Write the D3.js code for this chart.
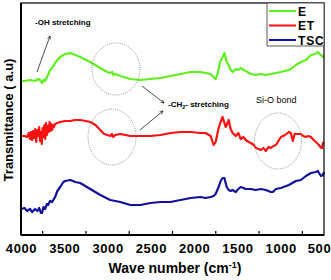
<!DOCTYPE html>
<html>
<head>
<meta charset="utf-8">
<script src="https://cdn.jsdelivr.net/npm/d3@7"></script>
<style>
  body { margin: 0; background: #fff; }
  svg { display: block; font-family: "Liberation Sans", Arial, sans-serif; }
</style>
</head>
<body>
<div id="chart"></div>
<script>
// FTIR spectra, wavenumber (cm-1) vs transmittance (a.u., offset traces)
var seriesNames = ['E', 'ET', 'TSC'];
var seriesColors = ['#5ef01c', '#ff1010', '#10109c'];

var xTicks = [4000, 3500, 3000, 2500, 2000, 1500, 1000, 500];
var xMinorTicks = [3750, 3250, 2750, 2250, 1750, 1250, 750];

var waveE = [4000, 3954, 3896, 3838, 3800, 3780, 3757, 3740, 3722, 3700, 3687, 3664, 3640, 3606, 3580,
  3548, 3490, 3432, 3374, 3316, 3200, 3084, 3003, 2969, 2945, 2934, 2911, 2853, 2737, 2621, 2505, 2389,
  2273, 2157, 2041, 1926, 1868, 1810, 1775, 1752, 1730, 1700, 1671, 1650, 1636, 1624, 1601, 1578, 1555,
  1520, 1490, 1462, 1430, 1404, 1346, 1288, 1230, 1172, 1114, 1056, 998, 906, 883, 825, 767, 709, 674,
  651, 600, 570, 550, 535, 512, 500];
var valE = [154, 154, 155, 154, 156, 155, 152, 155, 154, 158, 160, 165, 167, 172, 175,
  178, 181, 182, 180, 178, 173, 167, 163, 162, 163, 160, 161, 159, 156, 155, 156, 157,
  159, 161, 163, 163, 162, 161, 158, 156, 161, 173, 178, 182, 177, 173, 170, 165, 163,
  166, 165, 167, 165, 164, 161, 160, 161, 160, 161, 162, 163, 165, 166, 170, 173, 175, 178,
  180, 181, 183, 181, 180, 178, 179];

var waveET = [4000, 3960, 3930, 3910, 3896, 3885, 3872, 3860, 3848, 3836, 3825, 3812, 3800, 3790, 3780,
  3770, 3760, 3750, 3740, 3730, 3720, 3710, 3700, 3690, 3680, 3670, 3660, 3650, 3640, 3630, 3620, 3606,
  3580, 3548, 3490, 3432, 3374, 3316, 3250, 3200, 3140,
  3084, 3040, 3003, 2969, 2950, 2934, 2911, 2853, 2737, 2621, 2505, 2389, 2273, 2157, 2041, 1926, 1868,
  1810, 1775, 1752, 1717, 1694, 1671, 1650, 1636, 1624, 1601, 1589, 1578, 1555, 1520, 1490, 1462, 1430,
  1404, 1370, 1346, 1310, 1288, 1253, 1230, 1200, 1172, 1140, 1114, 1085, 1056, 1020, 998, 950, 906,
  883, 860, 840, 825, 767, 740, 709, 680, 651, 620, 593, 558, 535, 523, 512, 500];
var valET = [99, 99, 98, 102, 96, 103, 95, 104, 97, 106, 93, 105, 99, 108, 94,
  103, 91, 107, 98, 110, 96, 112, 100, 109, 103, 113, 104, 111, 105, 110, 108, 111,
  112, 113, 114, 114, 115, 115, 114, 113, 110,
  105, 101, 100, 99, 101, 98, 100, 101, 99, 99, 99, 100, 102, 103, 103, 102, 102,
  99, 90, 93, 107, 113, 118, 112, 108, 110, 115, 110, 106, 102, 99, 102, 96, 98,
  95, 93, 92, 90, 87, 86, 85, 87, 84, 88, 87, 89, 90, 95, 98, 100, 103,
  102, 94, 101, 101, 101, 99, 98, 99, 98, 95, 93, 90, 87, 87, 92, 93];

var waveTSC = [4000, 3960, 3930, 3896, 3870, 3838, 3810, 3790, 3770, 3757, 3740, 3722, 3700, 3687, 3664,
  3640, 3606, 3580, 3548, 3510, 3490, 3432, 3400, 3374, 3316, 3200, 3084, 2969, 2853, 2737, 2621, 2505,
  2389, 2273, 2157, 2041, 1926, 1868, 1810, 1775, 1752, 1717, 1694, 1671, 1650, 1636, 1624, 1601, 1578,
  1555, 1520, 1490, 1462, 1430, 1404, 1346, 1288, 1230, 1172, 1114, 1091, 1056, 998, 906, 825, 767, 709,
  651, 593, 570, 558, 535, 512, 500];
var valTSC = [26, 27, 24, 26, 23, 26, 24, 27, 22, 22, 28, 26, 31, 30, 34,
  33, 38, 44, 48, 53, 54, 55, 54, 53, 52, 46, 40, 35, 33, 30, 30, 32,
  33, 33, 35, 37, 38, 37, 38, 39, 41, 48, 54, 57, 57, 52, 48, 45, 44,
  45, 43, 46, 48, 47, 46, 46, 45, 46, 45, 43, 43, 46, 47, 50, 54, 55, 59,
  62, 63, 64, 62, 59, 60, 63];

var W = 331, H = 280;
var margin = { top: 3, right: 7, bottom: 45, left: 21 };
var iw = W - margin.left - margin.right;
var ih = H - margin.top - margin.bottom;

var svg = d3.select('#chart').append('svg')
  .attr('width', W).attr('height', H);

var g = svg.append('g')
  .attr('transform', 'translate(' + margin.left + ',' + margin.top + ')');

var x = d3.scaleLinear().domain([4000, 500]).range([0, iw]);
var y = d3.scaleLinear().domain([0, ih]).range([ih, 0]);

var series = [
  { name: seriesNames[0], color: seriesColors[0], pts: d3.zip(waveE, valE) },
  { name: seriesNames[1], color: seriesColors[1], pts: d3.zip(waveET, valET) },
  { name: seriesNames[2], color: seriesColors[2], pts: d3.zip(waveTSC, valTSC) }
];

var line = d3.line()
  .x(function(d) { return x(d[0]); })
  .y(function(d) { return y(d[1]); });

// Spectra
g.selectAll('path.spec')
  .data(series)
  .enter().append('path')
    .attr('class', 'spec')
    .attr('fill', 'none')
    .attr('stroke', function(d) { return d.color; })
    .attr('stroke-width', 2.2)
    .attr('stroke-linejoin', 'round')
    .attr('d', function(d) { return line(d.pts); });

// Frame
g.append('rect')
  .attr('width', iw).attr('height', ih)
  .attr('fill', 'none').attr('stroke', '#000').attr('stroke-width', 1.2);
g.append('line').attr('x1', 0).attr('x2', 0).attr('y1', 0).attr('y2', ih)
  .attr('stroke', '#000').attr('stroke-width', 2);
g.append('line').attr('x1', 0).attr('x2', iw).attr('y1', ih).attr('y2', ih)
  .attr('stroke', '#000').attr('stroke-width', 2);

// X axis labels
var xAxis = g.append('g')
  .attr('transform', 'translate(0,' + ih + ')')
  .call(d3.axisBottom(x).tickValues(xTicks).tickSize(0).tickPadding(9).tickFormat(d3.format('d')));
xAxis.select('.domain').remove();
xAxis.selectAll('text')
  .attr('font-size', 13).attr('font-weight', 'bold').attr('fill', '#000')
  .attr('letter-spacing', 0.6)
  .attr('font-family', '"Liberation Sans", Arial, sans-serif');
// last label sits against the right edge
xAxis.selectAll('text').filter(function(d) { return d === 500; }).attr('dx', -5);

// inward minor ticks
g.selectAll('line.minor')
  .data(xMinorTicks)
  .enter().append('line')
    .attr('class', 'minor')
    .attr('x1', function(d) { return x(d); })
    .attr('x2', function(d) { return x(d); })
    .attr('y1', ih).attr('y2', ih - 4)
    .attr('stroke', '#000').attr('stroke-width', 1.2);

// Axis titles
var xt = svg.append('text')
  .attr('x', 175).attr('y', 273)
  .attr('text-anchor', 'middle')
  .attr('font-size', 14).attr('font-weight', 'bold');
xt.append('tspan').text('Wave number (cm');
xt.append('tspan').attr('font-size', 9).attr('dy', -5).text('-1');
xt.append('tspan').attr('dy', 5).text(')');

svg.append('text')
  .attr('transform', 'translate(13,120) rotate(-90)')
  .attr('text-anchor', 'middle')
  .attr('font-size', 13).attr('font-weight', 'bold')
  .text('Transmittance ( a.u)');

// Legend
var lg = g.append('g').attr('transform', 'translate(' + (iw - 57) + ',0)');
lg.append('rect').attr('width', 57).attr('height', 43)
  .attr('fill', '#fff').attr('stroke', '#333').attr('stroke-width', 0.8);
var items = lg.selectAll('g.item').data(series).enter().append('g')
  .attr('class', 'item')
  .attr('transform', function(d, i) { return 'translate(0,' + (8 + i * 14.5) + ')'; });
items.append('line').attr('x1', 2).attr('x2', 29).attr('y1', 0).attr('y2', 0)
  .attr('stroke', function(d) { return d.color; }).attr('stroke-width', 2);
items.append('text').attr('x', 31).attr('y', 4.5)
  .attr('font-size', 12).attr('font-weight', 'bold').attr('letter-spacing', 0.8)
  .text(function(d) { return d.name; });

// Annotations
var ann = svg.append('g');
var defs = svg.append('defs');
defs.append('marker')
  .attr('id', 'arr').attr('viewBox', '0 0 10 10')
  .attr('refX', 9).attr('refY', 5)
  .attr('markerWidth', 5).attr('markerHeight', 5)
  .attr('orient', 'auto')
  .append('path').attr('d', 'M1,1 L9,5 L1,9').attr('fill', 'none').attr('stroke', '#000').attr('stroke-width', 1.4);

var ellipses = [
  { cx: 116, cy: 69, rx: 24, ry: 26 },
  { cx: 112, cy: 137, rx: 24, ry: 28 },
  { cx: 278, cy: 141, rx: 23.5, ry: 28 }
];
ann.selectAll('ellipse').data(ellipses).enter().append('ellipse')
  .attr('cx', function(d) { return d.cx; }).attr('cy', function(d) { return d.cy; })
  .attr('rx', function(d) { return d.rx; }).attr('ry', function(d) { return d.ry; })
  .attr('fill', 'none').attr('stroke', '#777').attr('stroke-width', 0.8)
  .attr('stroke-dasharray', '1,1.2');

var arrows = [
  [37, 72, 50, 36],
  [142, 86, 164, 103],
  [140, 130, 163, 111]
];
ann.selectAll('line.arrow').data(arrows).enter().append('line')
  .attr('class', 'arrow')
  .attr('x1', function(d) { return d[0]; }).attr('y1', function(d) { return d[1]; })
  .attr('x2', function(d) { return d[2]; }).attr('y2', function(d) { return d[3]; })
  .attr('stroke', '#222').attr('stroke-width', 0.8)
  .attr('marker-end', 'url(#arr)');

ann.append('text').attr('x', 35).attr('y', 25)
  .attr('font-size', 8).attr('font-weight', 'bold').text('-OH stretching');

var ch = ann.append('text').attr('x', 168).attr('y', 107)
  .attr('font-size', 8).attr('font-weight', 'bold');
ch.append('tspan').text('-CH');
ch.append('tspan').attr('font-size', 5.5).attr('dy', 2).text('2');
ch.append('tspan').attr('dy', -2).text('- stretching');

ann.append('text').attr('x', 256).attr('y', 103)
  .attr('font-size', 9).text('Si-O bond');
</script>
</body>
</html>
